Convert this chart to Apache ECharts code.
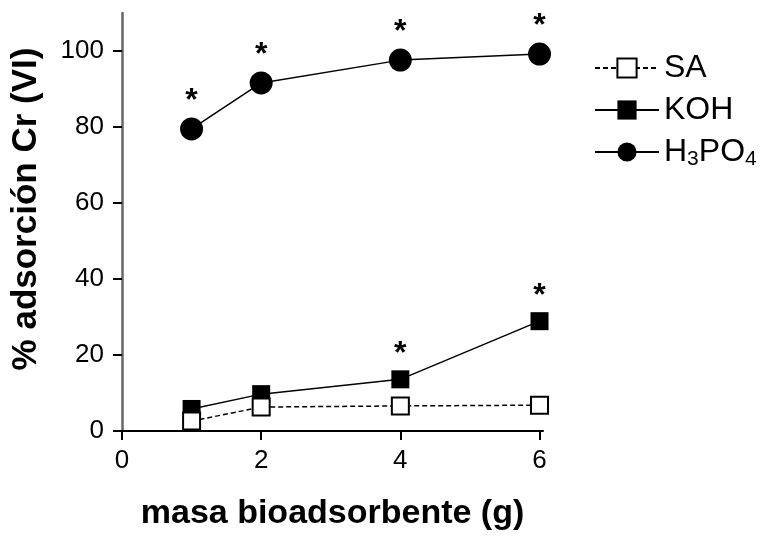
<!DOCTYPE html>
<html>
<head>
<meta charset="utf-8">
<script src="https://cdn.jsdelivr.net/npm/echarts@6/dist/echarts.min.js"></script>
<style>
  html, body { margin: 0; padding: 0; background: #fff; }
  #chart { width: 765px; height: 536px; }
</style>
</head>
<body>
<div id="chart"></div>
<script>
  // masa de bioadsorbente (g)
  var masa = [1, 2, 4, 6];
  var sa = [2.6, 6.3, 6.6, 6.8];
  var koh = [5.8, 9.7, 13.6, 28.9];
  var h3po4 = [79.5, 91.6, 97.6, 99.2];
  // diferencias significativas (*)
  var kohStar = [false, false, true, true];
  var h3po4Star = [true, true, true, true];
  var yTicks = [0, 20, 40, 60, 80, 100];
  var xTicks = [0, 2, 4, 6];

  var fontFam = 'Liberation Sans, Arial, sans-serif';

  function pairs(vals, stars) {
    return masa.map(function (m, i) {
      var item = { value: [m, vals[i]] };
      if (stars && stars[i]) {
        item.label = { show: true, formatter: '*', position: 'top', distance: 0,
          fontSize: 32, fontWeight: 'bold', fontFamily: fontFam, color: '#000' };
      }
      return item;
    });
  }

  var chart = echarts.init(document.getElementById('chart'));
  chart.setOption({
    animation: false,
    grid: { left: 122, right: 222, top: 13, bottom: 103 },
    legend: {
      left: 589,
      top: 47,
      orient: 'vertical',
      itemWidth: 64,
      itemHeight: 24,
      itemGap: 10,
      textStyle: {
        fontSize: 32, fontFamily: fontFam, color: '#000',
        rich: {
          a: { fontSize: 32, fontFamily: fontFam, color: '#000' },
          s: { fontSize: 21, fontFamily: fontFam, color: '#000', padding: [15, 0, 0, 0] }
        }
      },
      formatter: function (name) {
        if (name === 'H3PO4') return '{a|H}{s|3}{a|PO}{s|4}';
        return name;
      },
      data: ['SA', 'KOH', 'H3PO4']
    },
    xAxis: {
      type: 'value',
      min: 0,
      max: 6.05,
      name: 'masa bioadsorbente (g)',
      nameLocation: 'middle',
      nameGap: 66,
      nameTextStyle: { fontSize: 34, fontWeight: 'bold', fontFamily: fontFam, color: '#000' },
      splitLine: { show: false },
      axisLine: { lineStyle: { color: '#000', width: 2 } },
      axisTick: { customValues: xTicks, length: 9, lineStyle: { color: '#000', width: 2 } },
      axisLabel: { customValues: xTicks, fontSize: 26, fontFamily: fontFam, color: '#000', margin: 17 }
    },
    yAxis: {
      type: 'value',
      min: 0,
      max: 110,
      name: '% adsorción Cr (VI)',
      nameLocation: 'middle',
      nameGap: 78,
      nameTextStyle: { fontSize: 35, fontWeight: 'bold', fontFamily: fontFam, color: '#000',
        padding: [0, 0, 0, 26] },
      splitLine: { show: false },
      axisLine: { show: true, lineStyle: { color: '#666', width: 2.5 } },
      axisTick: { show: true, customValues: yTicks, length: 9, lineStyle: { color: '#000', width: 2 } },
      axisLabel: { customValues: yTicks, fontSize: 26, fontFamily: fontFam, color: '#000', margin: 18 }
    },
    series: [
      {
        name: 'SA',
        type: 'line',
        data: pairs(sa),
        symbol: 'rect',
        symbolSize: 17,
        lineStyle: { color: '#000', width: 1.5, type: [5, 3] },
        itemStyle: { color: '#fff', borderColor: '#000', borderWidth: 2 },
        z: 3
      },
      {
        name: 'KOH',
        type: 'line',
        data: pairs(koh, kohStar),
        symbol: 'rect',
        symbolSize: 18,
        lineStyle: { color: '#000', width: 1.5 },
        itemStyle: { color: '#000' },
        z: 2
      },
      {
        name: 'H3PO4',
        type: 'line',
        data: pairs(h3po4, h3po4Star),
        symbol: 'circle',
        symbolSize: 23,
        lineStyle: { color: '#000', width: 1.5 },
        itemStyle: { color: '#000' },
        z: 2
      }
    ]
  });
</script>
</body>
</html>
